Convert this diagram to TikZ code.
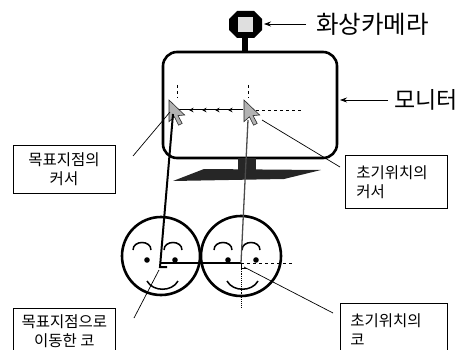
\documentclass[tikz,border=0pt]{standalone}
\usepackage{fontspec}
\newfontfamily\kr{Noto Sans CJK KR}
\usetikzlibrary{arrows.meta}
\begin{document}
\begin{tikzpicture}[x=1pt,y=-1pt,
  outline/.style={line width=2.6pt},
  leader/.style={line width=0.7pt},
  pointer/.style={leader,-{Stealth[length=7pt,width=5pt]}},
  biglabel/.style={font=\kr\fontsize{23}{26}\selectfont,anchor=west,inner sep=0pt},
  callout/.style={draw,line width=0.8pt,font=\kr\fontsize{15.5}{19}\selectfont,inner ysep=0pt},
  solid dark/.style={fill=black!85},
  mousecursor/.pic={
    \filldraw[fill=gray!60,draw=gray!30!black,line width=0.6pt,scale=1.2]
      (0,0) -- (0,18) -- (4.5,14) -- (8,21) -- (11,19.5) -- (7.5,13) -- (13,12.5) -- cycle;
  }]
\useasboundingbox (0,0) rectangle (460,350);
\clip (0,0) rectangle (460,350);

% camera on top of the monitor
\fill (237,11) -- (254,11) -- (262,19) -- (262,30) -- (254,38) -- (237,38) -- (229,30) -- (229,19) -- cycle;
\fill[gray!25] (238,17) rectangle (253,32);
\fill (242,38) rectangle (248,53);
\coordinate (cam) at (264,24);
\node (camlabel) [biglabel,font=\kr\fontsize{24.5}{26}\selectfont] at (316,24) {화상카메라};
\draw[pointer] ([xshift=-10pt]camlabel.west) -- (cam);

% monitor with its stand
\node (mon) [draw,outline,rounded corners=14pt,minimum width=174pt,minimum height=106pt,inner sep=0pt] at (250,105) {};
\node (monlabel) [biglabel] at (394,100) {모니터};
\draw[pointer] ([xshift=-6pt]monlabel.west) -- (340,100);
\fill[solid dark] (238,158) rectangle (256,171);
\fill[solid dark] (173,181) -- (204,169) -- (321,170) -- (284,179) -- cycle;

% cursors: target (left) and initial (right)
\coordinate (tcur) at (169,100);
\coordinate (icur) at (244,100);
\draw[dashed,line width=0.6pt] (177,85) -- (177,98);
\draw[dashed,line width=0.6pt] (248,85) -- (248,98);
\draw[line width=1pt] (173,110) -- (243,110);
\foreach \x in {189,202,215,228}
  \draw[-{Stealth[length=4.5pt,width=4.5pt]},line width=1pt] (\x+5,110) -- (\x,110);
\draw[dashed,line width=0.6pt] (256,110) -- (301,110);
\pic at (tcur) {mousecursor};
\pic at (icur) {mousecursor};

% faces
\coordinate (tnose) at (161,263);
\coordinate (inose) at (241,263);
\draw[outline] (161,256) circle (39);
\draw[outline] (241,256) circle (40);
\foreach \c in {142,173,223,251}
  \draw[line width=1.5pt] (\c-9,250) .. controls (\c-9,240) and (\c+9,240) .. (\c+9,250);
\foreach \a/\b in {147/178,227/258}
  \draw[line width=1.5pt] (\a,281) .. controls (\a+6,292) and (\b-6,292) .. (\b,281);
\foreach \e in {147,175,228,256}
  \fill (\e,260) circle (2.8);

% movement of the nose and the cursor line
\draw[line width=2pt] (173,114) -- (160,267) -- (167,267);
\draw[line width=2pt] (tnose) -- (inose);
\draw[gray!60!black,line width=1.3pt] (248,120) -- (inose);
\draw[densely dotted,line width=0.9pt] (inose) -- (241,308);
\draw[line width=1pt] (inose) -- (241,268) -- (247,268);
\draw[dashed,line width=0.6pt] (inose) -- (294,263);

% callouts
\node (b1) [callout,minimum width=102pt,minimum height=48pt,align=center] at (64,169) {목표지점의\\커서};
\node (b2) [callout,anchor=north west,text width=80pt,inner xsep=11pt,minimum height=53pt,align=left] at (345,155) {초기위치의\\커서};
\node (b3) [callout,anchor=north west,minimum width=102pt,minimum height=46pt,align=center] at (13,308) {목표지점으로\\이동한 코};
\node (b4) [callout,anchor=north west,text width=87pt,inner xsep=10pt,minimum height=52pt,align=left] at (340,303) {초기위치의\\코};

\draw[leader] (133,156) -- (170,112);
\draw[leader] (262,120) -- (340,167);
\draw[leader] (159,270) -- (134,318);
\draw[leader] (244,267) -- (333,313);
\end{tikzpicture}
\end{document}
